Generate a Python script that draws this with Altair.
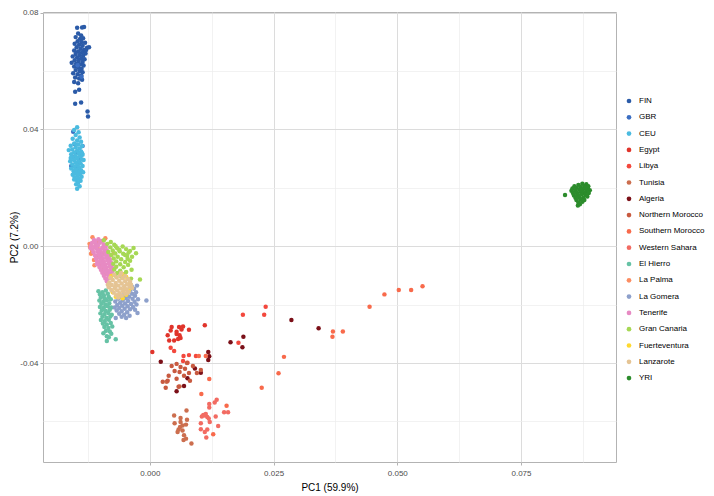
import altair as alt
import pandas as pd

FIN = [(-0.0147,0.0748),(-0.0137,0.0749),(-0.0133,0.0751),(-0.0145,0.0728),(-0.0139,0.0722),(-0.0150,0.0716),(-0.0141,0.0710),(-0.0135,0.0712),(-0.0146,0.0702),(-0.0138,0.0699),(-0.0131,0.0697),(-0.0152,0.0693),(-0.0143,0.0690),(-0.0136,0.0686),(-0.0127,0.0680),(-0.0148,0.0681),(-0.0140,0.0676),(-0.0133,0.0672),(-0.0153,0.0670),(-0.0145,0.0667),(-0.0137,0.0664),(-0.0130,0.0660),(-0.0150,0.0658),(-0.0142,0.0655),(-0.0135,0.0652),(-0.0156,0.0650),(-0.0147,0.0646),(-0.0139,0.0643),(-0.0132,0.0640),(-0.0152,0.0637),(-0.0144,0.0634),(-0.0136,0.0631),(-0.0158,0.0628),(-0.0149,0.0625),(-0.0141,0.0622),(-0.0134,0.0619),(-0.0153,0.0615),(-0.0145,0.0612),(-0.0138,0.0608),(-0.0150,0.0603),(-0.0142,0.0600),(-0.0136,0.0596),(-0.0155,0.0592),(-0.0146,0.0589),(-0.0139,0.0585),(-0.0151,0.0578),(-0.0143,0.0574),(-0.0137,0.0570),(-0.0153,0.0562),(-0.0145,0.0558),(-0.0151,0.0529),(-0.0143,0.0536),(-0.0151,0.0488),(-0.0139,0.0492),(-0.0126,0.0461),(-0.0125,0.0444),(-0.0129,0.0672),(-0.0123,0.0681)]

GBR = [(-0.0155,0.0392),(-0.0136,0.0343),(-0.0159,0.0275),(-0.0145,0.0300),(-0.0150,0.0320),(-0.0142,0.0285),(-0.0152,0.0350),(-0.0147,0.0265),(-0.0140,0.0310),(-0.0156,0.0305),(-0.0138,0.0580),(-0.0146,0.0620)]

CEU = [(-0.0147,0.0407),(-0.0153,0.0398),(-0.0144,0.0390),(-0.0150,0.0381),(-0.0142,0.0372),(-0.0156,0.0368),(-0.0147,0.0362),(-0.0139,0.0358),(-0.0153,0.0352),(-0.0145,0.0348),(-0.0160,0.0344),(-0.0137,0.0343),(-0.0150,0.0339),(-0.0142,0.0335),(-0.0157,0.0331),(-0.0164,0.0329),(-0.0147,0.0327),(-0.0139,0.0324),(-0.0153,0.0321),(-0.0144,0.0318),(-0.0159,0.0315),(-0.0136,0.0313),(-0.0150,0.0310),(-0.0141,0.0307),(-0.0156,0.0304),(-0.0147,0.0301),(-0.0138,0.0298),(-0.0134,0.0295),(-0.0153,0.0294),(-0.0161,0.0291),(-0.0144,0.0290),(-0.0150,0.0286),(-0.0140,0.0283),(-0.0157,0.0280),(-0.0146,0.0277),(-0.0136,0.0275),(-0.0152,0.0272),(-0.0143,0.0269),(-0.0159,0.0266),(-0.0148,0.0263),(-0.0139,0.0260),(-0.0154,0.0257),(-0.0145,0.0254),(-0.0135,0.0253),(-0.0150,0.0250),(-0.0141,0.0247),(-0.0156,0.0245),(-0.0146,0.0241),(-0.0138,0.0238),(-0.0152,0.0236),(-0.0143,0.0232),(-0.0148,0.0227),(-0.0140,0.0224),(-0.0153,0.0228),(-0.0145,0.0218),(-0.0149,0.0212),(-0.0147,0.0197),(-0.0142,0.0205),(-0.0151,0.0262),(-0.0137,0.0318),(-0.0160,0.0302)]

EGYPT = [(0.0044,-0.0277),(0.0059,-0.0277),(0.0067,-0.0275),(0.0064,-0.0285),(0.0079,-0.0286),(0.0036,-0.0305),(0.0054,-0.0301),(0.0060,-0.0305),(0.0039,-0.0323),(0.0049,-0.0323),(0.0062,-0.0314),(0.0005,-0.0362),(0.0111,-0.0271),(0.0054,-0.0293),(0.0042,-0.0289),(0.0057,-0.0318)]

LIBYA = [(0.0049,-0.0359),(0.0068,-0.0376),(0.0079,-0.0373),(0.0093,-0.0376),(0.0067,-0.0393),(0.0076,-0.0399),(0.0042,-0.0348),(0.0188,-0.0235),(0.0234,-0.0207),(0.0231,-0.0235),(0.0179,-0.0331)]

TUNISIA = [(0.0074,-0.0563),(0.0049,-0.0580),(0.0075,-0.0594),(0.0050,-0.0606),(0.0062,-0.0602),(0.0066,-0.0614),(0.0073,-0.0611),(0.0058,-0.0628),(0.0066,-0.0631),(0.0056,-0.0636),(0.0069,-0.0647),(0.0073,-0.0659),(0.0068,-0.0664),(0.0084,-0.0676),(0.0061,-0.0619),(0.0062,-0.0588),(0.0034,-0.0464),(0.0060,-0.0480)]

ALGERIA = [(0.0189,-0.0310),(0.0163,-0.0329),(0.0187,-0.0346),(0.0118,-0.0362),(0.0120,-0.0377),(0.0118,-0.0390),(0.0022,-0.0396),(0.0091,-0.0419),(0.0103,-0.0433),(0.0076,-0.0452),(0.0069,-0.0479),(0.0054,-0.0497),(0.0286,-0.0253),(0.0341,-0.0281)]

N_MOROCCO = [(0.0044,-0.0410),(0.0054,-0.0403),(0.0062,-0.0414),(0.0071,-0.0420),(0.0050,-0.0427),(0.0060,-0.0431),(0.0079,-0.0434),(0.0069,-0.0444),(0.0087,-0.0410),(0.0095,-0.0434),(0.0103,-0.0424),(0.0038,-0.0444),(0.0036,-0.0461),(0.0054,-0.0454),(0.0081,-0.0461),(0.0032,-0.0485),(0.0058,-0.0481),(0.0026,-0.0464),(0.0075,-0.0400)]

S_MOROCCO = [(0.0444,-0.0207),(0.0474,-0.0165),(0.0503,-0.0150),(0.0528,-0.0150),(0.0551,-0.0137),(0.0370,-0.0292),(0.0390,-0.0292),(0.0369,-0.0310),(0.0271,-0.0379),(0.0260,-0.0435),(0.0226,-0.0485),(0.0113,-0.0376),(0.0120,-0.0455),(0.0104,-0.0506),(0.0099,-0.0376),(0.0155,-0.0546),(0.0128,-0.0644)]

W_SAHARA = [(0.0135,-0.0526),(0.0131,-0.0535),(0.0120,-0.0540),(0.0120,-0.0552),(0.0150,-0.0569),(0.0158,-0.0569),(0.0111,-0.0580),(0.0116,-0.0585),(0.0133,-0.0583),(0.0103,-0.0606),(0.0121,-0.0602),(0.0138,-0.0616),(0.0103,-0.0627),(0.0116,-0.0628),(0.0114,-0.0655),(0.0111,-0.0636),(0.0108,-0.0578),(0.0113,-0.0575),(0.0105,-0.0583),(0.0119,-0.0590)]

EL_HIERRO = [(-0.0104,-0.0154),(-0.0096,-0.0158),(-0.0089,-0.0152),(-0.0101,-0.0165),(-0.0093,-0.0168),(-0.0085,-0.0163),(-0.0099,-0.0176),(-0.0091,-0.0179),(-0.0083,-0.0174),(-0.0102,-0.0186),(-0.0094,-0.0189),(-0.0087,-0.0185),(-0.0079,-0.0182),(-0.0098,-0.0197),(-0.0090,-0.0200),(-0.0082,-0.0195),(-0.0101,-0.0208),(-0.0093,-0.0211),(-0.0085,-0.0206),(-0.0078,-0.0210),(-0.0097,-0.0219),(-0.0089,-0.0222),(-0.0081,-0.0218),(-0.0100,-0.0230),(-0.0092,-0.0233),(-0.0084,-0.0229),(-0.0077,-0.0235),(-0.0096,-0.0242),(-0.0088,-0.0245),(-0.0080,-0.0241),(-0.0099,-0.0253),(-0.0091,-0.0256),(-0.0083,-0.0252),(-0.0095,-0.0265),(-0.0087,-0.0268),(-0.0079,-0.0263),(-0.0092,-0.0277),(-0.0084,-0.0280),(-0.0076,-0.0275),(-0.0089,-0.0290),(-0.0081,-0.0292),(-0.0094,-0.0298),(-0.0087,-0.0308),(-0.0078,-0.0300),(-0.0069,-0.0319),(-0.0083,-0.0312),(-0.0087,-0.0325)]

LA_PALMA = [(-0.0116,0.0031),(-0.0090,0.0027),(-0.0121,-0.0003),(-0.0119,-0.0026),(-0.0110,0.0000),(-0.0073,-0.0024),(-0.0113,-0.0047),(-0.0075,-0.0061),(-0.0105,0.0015),(-0.0122,0.0008),(-0.0117,-0.0015),(-0.0108,-0.0035),(-0.0100,-0.0060),(-0.0095,-0.0025),(-0.0085,-0.0045),(-0.0112,-0.0065),(-0.0098,-0.0080),(-0.0090,-0.0095),(-0.0080,-0.0070),(-0.0104,-0.0010)]

LA_GOMERA = [(-0.0032,-0.0146),(-0.0040,-0.0150),(-0.0028,-0.0158),(-0.0045,-0.0160),(-0.0036,-0.0163),(-0.0052,-0.0166),(-0.0030,-0.0170),(-0.0042,-0.0173),(-0.0058,-0.0175),(-0.0049,-0.0178),(-0.0035,-0.0180),(-0.0064,-0.0180),(-0.0024,-0.0182),(-0.0007,-0.0186),(-0.0055,-0.0186),(-0.0044,-0.0188),(-0.0070,-0.0189),(-0.0031,-0.0190),(-0.0060,-0.0194),(-0.0050,-0.0196),(-0.0038,-0.0198),(-0.0027,-0.0200),(-0.0066,-0.0201),(-0.0056,-0.0204),(-0.0045,-0.0206),(-0.0034,-0.0208),(-0.0071,-0.0210),(-0.0062,-0.0212),(-0.0051,-0.0214),(-0.0040,-0.0216),(-0.0030,-0.0218),(-0.0067,-0.0220),(-0.0057,-0.0223),(-0.0046,-0.0226),(-0.0025,-0.0229),(-0.0062,-0.0231),(-0.0052,-0.0235),(-0.0041,-0.0238),(-0.0069,-0.0246),(-0.0048,-0.0246),(-0.0057,-0.0242),(-0.0036,-0.0140),(-0.0026,-0.0135)]

TENERIFE = [(-0.0113,0.0021),(-0.0104,0.0024),(-0.0097,0.0018),(-0.0117,0.0011),(-0.0109,0.0008),(-0.0101,0.0012),(-0.0093,0.0006),(-0.0119,0.0001),(-0.0112,-0.0003),(-0.0105,0.0002),(-0.0096,-0.0004),(-0.0089,-0.0001),(-0.0116,-0.0011),(-0.0108,-0.0008),(-0.0101,-0.0013),(-0.0094,-0.0009),(-0.0087,-0.0014),(-0.0114,-0.0021),(-0.0106,-0.0018),(-0.0099,-0.0023),(-0.0092,-0.0019),(-0.0085,-0.0024),(-0.0111,-0.0031),(-0.0104,-0.0028),(-0.0097,-0.0033),(-0.0090,-0.0029),(-0.0083,-0.0034),(-0.0109,-0.0041),(-0.0102,-0.0038),(-0.0095,-0.0043),(-0.0088,-0.0039),(-0.0081,-0.0045),(-0.0107,-0.0051),(-0.0100,-0.0048),(-0.0093,-0.0053),(-0.0086,-0.0049),(-0.0079,-0.0055),(-0.0104,-0.0061),(-0.0097,-0.0058),(-0.0090,-0.0063),(-0.0083,-0.0059),(-0.0077,-0.0065),(-0.0102,-0.0071),(-0.0095,-0.0068),(-0.0088,-0.0073),(-0.0081,-0.0069),(-0.0075,-0.0076),(-0.0099,-0.0081),(-0.0092,-0.0078),(-0.0085,-0.0083),(-0.0078,-0.0080),(-0.0096,-0.0091),(-0.0089,-0.0088),(-0.0082,-0.0093),(-0.0076,-0.0090),(-0.0093,-0.0101),(-0.0086,-0.0098),(-0.0079,-0.0104),(-0.0090,-0.0111),(-0.0083,-0.0109),(-0.0087,-0.0120),(-0.0110,0.0016),(-0.0120,-0.0006),(-0.0107,-0.0062)]

GRAN_CANARIA = [(-0.0093,0.0020),(-0.0079,0.0014),(-0.0086,0.0008),(-0.0072,0.0005),(-0.0055,-0.0001),(-0.0033,-0.0006),(-0.0080,-0.0004),(-0.0066,-0.0007),(-0.0048,-0.0010),(-0.0075,-0.0015),(-0.0061,-0.0017),(-0.0040,-0.0016),(-0.0028,-0.0024),(-0.0070,-0.0025),(-0.0054,-0.0026),(-0.0078,-0.0030),(-0.0046,-0.0033),(-0.0065,-0.0036),(-0.0036,-0.0036),(-0.0073,-0.0042),(-0.0045,-0.0043),(-0.0058,-0.0045),(-0.0068,-0.0052),(-0.0050,-0.0054),(-0.0040,-0.0050),(-0.0074,-0.0060),(-0.0060,-0.0062),(-0.0044,-0.0064),(-0.0068,-0.0070),(-0.0053,-0.0072),(-0.0037,-0.0081),(-0.0072,-0.0080),(-0.0060,-0.0084),(-0.0048,-0.0088),(-0.0066,-0.0092),(-0.0054,-0.0096),(-0.0070,-0.0100),(-0.0058,-0.0104),(-0.0038,-0.0111),(-0.0020,-0.0114),(-0.0050,-0.0030),(-0.0062,-0.0012),(-0.0084,-0.0020),(-0.0069,0.0000),(-0.0043,-0.0022)]

FUERTEVENTURA = [(-0.0069,-0.0173),(-0.0048,-0.0166),(-0.0048,-0.0105),(-0.0063,-0.0168),(-0.0078,-0.0102),(-0.0056,-0.0097),(-0.0040,-0.0128),(-0.0075,-0.0158),(-0.0055,-0.0178),(-0.0042,-0.0150)]

LANZAROTE = [(-0.0072,-0.0098),(-0.0060,-0.0100),(-0.0050,-0.0102),(-0.0080,-0.0108),(-0.0067,-0.0107),(-0.0055,-0.0110),(-0.0044,-0.0112),(-0.0075,-0.0116),(-0.0062,-0.0118),(-0.0050,-0.0120),(-0.0040,-0.0122),(-0.0082,-0.0124),(-0.0069,-0.0126),(-0.0057,-0.0128),(-0.0046,-0.0130),(-0.0077,-0.0133),(-0.0064,-0.0135),(-0.0052,-0.0137),(-0.0041,-0.0139),(-0.0083,-0.0141),(-0.0071,-0.0143),(-0.0059,-0.0145),(-0.0047,-0.0147),(-0.0036,-0.0143),(-0.0078,-0.0150),(-0.0066,-0.0152),(-0.0054,-0.0154),(-0.0043,-0.0156),(-0.0073,-0.0159),(-0.0061,-0.0161),(-0.0050,-0.0163),(-0.0068,-0.0168),(-0.0057,-0.0170),(-0.0046,-0.0160),(-0.0064,-0.0176),(-0.0085,-0.0132),(-0.0038,-0.0132),(-0.0058,-0.0092),(-0.0070,-0.0138),(-0.0053,-0.0148)]

YRI = [(0.0839,0.0175),(0.0865,0.0139),(0.0858,0.0205),(0.0866,0.0210),(0.0874,0.0214),(0.0882,0.0212),(0.0886,0.0205),(0.0854,0.0198),(0.0862,0.0200),(0.0870,0.0203),(0.0878,0.0205),(0.0885,0.0198),(0.0889,0.0192),(0.0852,0.0190),(0.0860,0.0192),(0.0868,0.0194),(0.0876,0.0196),(0.0883,0.0190),(0.0855,0.0182),(0.0863,0.0184),(0.0871,0.0186),(0.0879,0.0183),(0.0887,0.0182),(0.0857,0.0174),(0.0865,0.0176),(0.0873,0.0178),(0.0881,0.0175),(0.0860,0.0166),(0.0868,0.0168),(0.0876,0.0166),(0.0884,0.0170),(0.0862,0.0158),(0.0870,0.0160),(0.0878,0.0158),(0.0866,0.0150),(0.0874,0.0152),(0.0869,0.0144),(0.0861,0.0170),(0.0872,0.0190),(0.0880,0.0200)]

POPULATIONS = ["FIN", "GBR", "CEU", "Egypt", "Libya", "Tunisia", "Algeria",
               "Northern Morocco", "Southern Morocco", "Western Sahara", "El Hierro",
               "La Palma", "La Gomera", "Tenerife", "Gran Canaria", "Fuerteventura",
               "Lanzarote", "YRI"]
COLORS = ["#2b5ba8", "#3b6ec2", "#4bbbe0", "#e0342b", "#f3483d", "#cc6e4e", "#7b1018",
          "#c85a40", "#f86a4b", "#f26b62", "#66c2a5", "#fc8d62", "#8da0cb", "#e78ac3",
          "#a6d854", "#ffd92f", "#e5c494", "#2c8c2c"]
POINTS = [FIN, GBR, CEU, EGYPT, LIBYA, TUNISIA, ALGERIA, N_MOROCCO, S_MOROCCO, W_SAHARA,
          EL_HIERRO, LA_PALMA, LA_GOMERA, TENERIFE, GRAN_CANARIA, FUERTEVENTURA, LANZAROTE, YRI]

X_TICKS = [-0.0125, 0.0, 0.0125, 0.025, 0.0375, 0.05, 0.0625, 0.075, 0.0875]
Y_TICKS = [-0.06, -0.04, -0.02, 0.0, 0.02, 0.04, 0.06, 0.08]

rows = []
for name, pts in zip(POPULATIONS, POINTS):
    for x, y in pts:
        rows.append({"PC1": x, "PC2": y, "Population": name})
df = pd.DataFrame(rows)

x_major = "abs(datum.value*40 - round(datum.value*40)) < 0.001"
y_major = "abs(datum.value*25 - round(datum.value*25)) < 0.001"

def axis_for(test, fmt, ticks, title_pad, label_pad):
    return alt.Axis(
        values=ticks,
        labelExpr=f"{test} ? replace(format(datum.value, '{fmt}'), '\u2212', '-') : ''",
        gridColor={"condition": {"test": test, "value": "#dcdcdc"}, "value": "#ededed"},
        gridWidth={"condition": {"test": test, "value": 1}, "value": 0.7},
        tickColor={"condition": {"test": test, "value": "#b3b3b3"}, "value": "transparent"},
        tickSize=3,
        labelPadding=label_pad,
        titlePadding=title_pad,
    )

chart = alt.Chart(df).mark_circle(size=20, opacity=1).encode(
    x=alt.X("PC1:Q", title="PC1 (59.9%)",
            scale=alt.Scale(domain=[-0.0216, 0.0942], nice=False, zero=False),
            axis=axis_for(x_major, ".3f", X_TICKS, 5, 4)),
    y=alt.Y("PC2:Q", title="PC2 (7.2%)",
            scale=alt.Scale(domain=[-0.0739, 0.0802], nice=False, zero=False),
            axis=axis_for(y_major, ".2f", Y_TICKS, 0, 2)),
    color=alt.Color("Population:N", sort=POPULATIONS,
                    scale=alt.Scale(domain=POPULATIONS, range=COLORS),
                    legend=alt.Legend(title=None, orient="none", legendX=582, legendY=85,
                                      symbolType="circle", symbolSize=22, symbolStrokeWidth=0,
                                      symbolOpacity=1, labelFontSize=8, labelOffset=6,
                                      rowPadding=8.3, labelFont="Liberation Sans",
                                      labelColor="#000000")),
).properties(
    width=573, height=450,
    padding={"left": 35, "top": 4, "right": 90, "bottom": 32},
    autosize=alt.AutoSizeParams(type="none"),
).configure_view(
    stroke="#b3b3b3", strokeWidth=1
).configure_axis(
    domain=False,
    labelFont="Liberation Sans", labelFontSize=8, labelColor="#4d4d4d",
    titleFont="Liberation Sans", titleFontSize=10, titleColor="#000000", titleFontWeight="normal",
)

chart.save("out.html", embed_options={"renderer": "svg", "actions": False})
